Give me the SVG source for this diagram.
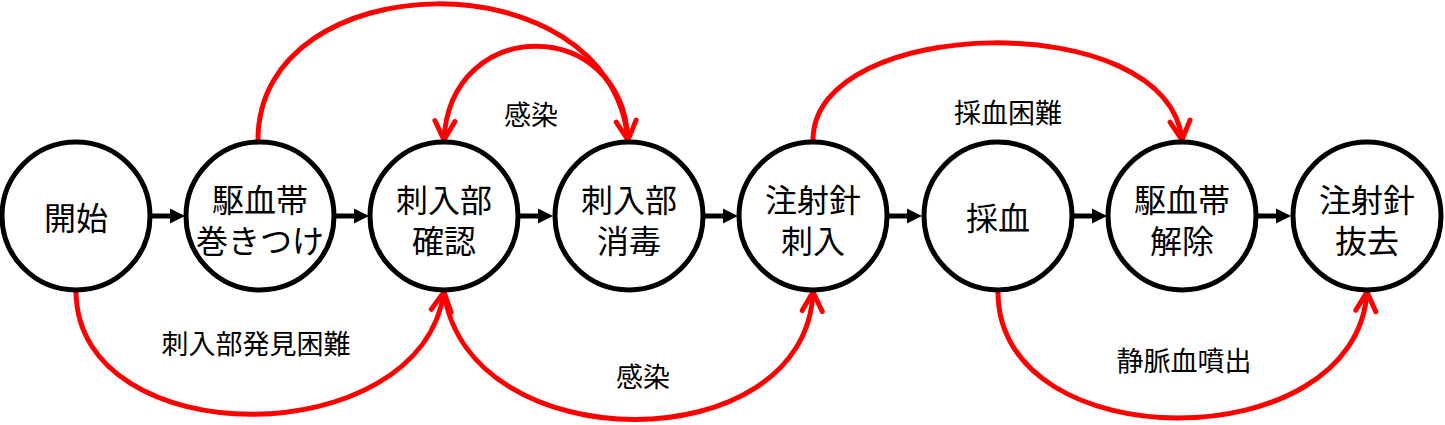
<svg xmlns="http://www.w3.org/2000/svg" width="1445" height="425" viewBox="0 0 1445 425">
<style>
.node circle{fill:#fff;stroke:#000;stroke-width:5}
.node text{font-family:"Noto Sans CJK JP","Noto Sans CJK SC",sans-serif;font-size:32px;fill:#000;text-anchor:middle;dominant-baseline:central}
.lbl{font-family:"Noto Sans CJK JP","Noto Sans CJK SC",sans-serif;font-size:27px;fill:#000;text-anchor:middle;dominant-baseline:central}
.flow{stroke:#000;stroke-width:5;fill:none}
.red{stroke:#ff0000;stroke-width:5;fill:none}
</style>
<defs>
<marker id="blk" markerUnits="userSpaceOnUse" viewBox="0 -8 15 16" refX="7" refY="0" markerWidth="15" markerHeight="16" orient="auto">
<path d="M0,-7.5 L15,0 L0,7.5 z" fill="#000"/>
</marker>
<marker id="rd" markerUnits="userSpaceOnUse" viewBox="-24 -14 28 28" refX="0" refY="0" markerWidth="28" markerHeight="28" orient="auto">
<path d="M-19,-10 L0,0 L-19,10" fill="none" stroke="#ff0000" stroke-width="5" stroke-linecap="round"/>
</marker>
</defs>
<g id="connectors">
<line class="flow" x1="151" y1="216" x2="177" y2="216" marker-end="url(#blk)"/>
<line class="flow" x1="335" y1="216" x2="361" y2="216" marker-end="url(#blk)"/>
<line class="flow" x1="519" y1="216" x2="545" y2="216" marker-end="url(#blk)"/>
<line class="flow" x1="704" y1="216" x2="730" y2="216" marker-end="url(#blk)"/>
<line class="flow" x1="888" y1="216" x2="914" y2="216" marker-end="url(#blk)"/>
<line class="flow" x1="1073" y1="216" x2="1099" y2="216" marker-end="url(#blk)"/>
<line class="flow" x1="1257" y1="216" x2="1283" y2="216" marker-end="url(#blk)"/>
<path class="red" d="M258,140 C258,-38 610,-45 628,140" marker-end="url(#rd)"/>
<path class="red" d="M628,140 C622,15 450,15 444,140" marker-end="url(#rd)"/>
<path class="red" d="M813,140 C813,15 1168,6 1182,140" marker-end="url(#rd)"/>
<path class="red" d="M76,292 C78,455 420,455 444,292" marker-end="url(#rd)"/>
<path class="red" d="M444,292 C468,462 806,462 813,292" marker-end="url(#rd)"/>
<path class="red" d="M998,292 C998,460 1356,460 1367,292" marker-end="url(#rd)"/>
<text class="lbl" x="531" y="113">感染</text>
<text class="lbl" x="1008" y="111">採血困難</text>
<text class="lbl" x="256" y="342">刺入部発見困難</text>
<text class="lbl" x="643" y="375">感染</text>
<text class="lbl" x="1184" y="359">静脈血噴出</text>
</g>
<g id="n1" class="node"><circle cx="76" cy="216" r="74"/><text x="76" y="216">開始</text></g>
<g id="n2" class="node"><circle cx="260" cy="216" r="74"/><text x="260" y="198"><tspan x="260" y="198">駆血帯</tspan><tspan x="260" y="239">巻きつけ</tspan></text></g>
<g id="n3" class="node"><circle cx="444" cy="216" r="74"/><text x="444" y="198"><tspan x="444" y="198">刺入部</tspan><tspan x="444" y="239">確認</tspan></text></g>
<g id="n4" class="node"><circle cx="629" cy="216" r="74"/><text x="629" y="198"><tspan x="629" y="198">刺入部</tspan><tspan x="629" y="239">消毒</tspan></text></g>
<g id="n5" class="node"><circle cx="813" cy="216" r="74"/><text x="813" y="198"><tspan x="813" y="198">注射針</tspan><tspan x="813" y="239">刺入</tspan></text></g>
<g id="n6" class="node"><circle cx="998" cy="216" r="74"/><text x="998" y="216">採血</text></g>
<g id="n7" class="node"><circle cx="1182" cy="216" r="74"/><text x="1182" y="198"><tspan x="1182" y="198">駆血帯</tspan><tspan x="1182" y="239">解除</tspan></text></g>
<g id="n8" class="node"><circle cx="1367" cy="216" r="74"/><text x="1367" y="198"><tspan x="1367" y="198">注射針</tspan><tspan x="1367" y="239">抜去</tspan></text></g>
</svg>
